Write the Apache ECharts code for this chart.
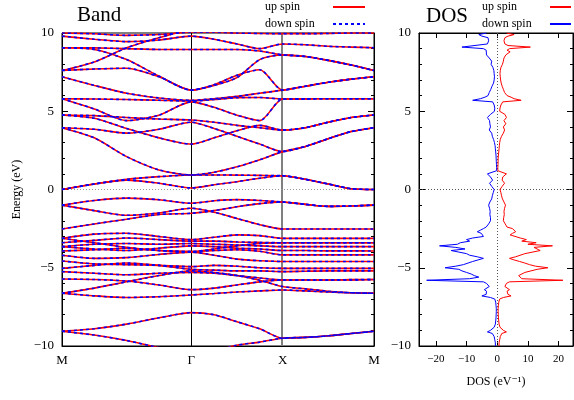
<!DOCTYPE html>
<html>
<head>
<meta charset="utf-8">
<script src="https://cdn.jsdelivr.net/npm/echarts@6/dist/echarts.min.js"></script>
<style>html,body{margin:0;padding:0;background:#fff}#c{width:574px;height:400px}</style>
</head>
<body>
<div id="c"></div>
<script>
// ---- k-path (M - Γ - X - M), sample positions along the path ----
const kPath = [0, 0.3536, 0.7071, 1.0607, 1.4142, 1.6642, 1.9142, 2.1642, 2.4142, 2.6642, 2.9142, 3.1642, 3.4142];
const kTickValues = [0, 1.4142, 2.4142, 3.4142];
const kTickLabels = ['M', 'Γ', 'X', 'M'];
const dosTicks = [-20, -10, 0, 10, 20];

// ---- band energies (eV) at the kPath samples ----
const bands = [
  [10.0, 9.95, 9.85, 9.9, 10.05, 10.05, 10.0, 9.97, 9.95, 9.95, 9.97, 10.0, 10.0],
  [9.8, 9.6, 9.45, 9.55, 9.8, 9.6, 9.3, 9.0, 9.3, 9.25, 9.15, 9.1, 9.06],
  [9.06, 9.05, 9.0, 8.95, 8.95, 8.95, 8.95, 8.85, 8.6, 8.5, 8.25, 7.95, 7.6],
  [9.06, 8.95, 8.3, 7.25, 6.35, 6.65, 7.15, 8.3, 8.6, 8.5, 8.25, 7.95, 7.6],
  [7.6, 8.15, 9.05, 9.7, 10.2, 10.25, 10.2, 10.15, 10.1, 10.1, 10.1, 10.1, 10.1],
  [7.6, 7.7, 7.75, 7.2, 6.35, 6.7, 7.3, 7.65, 6.35, 6.6, 6.85, 7.05, 7.2],
  [7.2, 6.65, 6.15, 5.85, 5.7, 5.8, 5.95, 6.15, 6.35, 6.6, 6.85, 7.05, 7.2],
  [5.8, 5.78, 5.75, 5.7, 5.65, 5.75, 5.87, 5.88, 5.78, 5.79, 5.8, 5.8, 5.8],
  [5.8, 5.15, 4.4, 4.75, 5.6, 5.25, 4.75, 4.4, 5.78, 5.79, 5.8, 5.8, 5.8],
  [4.76, 4.72, 4.6, 4.5, 4.44, 4.3, 4.1, 3.95, 3.8, 3.95, 4.3, 4.6, 4.76],
  [4.76, 4.55, 3.9, 3.3, 2.9, 3.3, 3.75, 4.1, 3.8, 3.95, 4.3, 4.6, 4.76],
  [3.95, 3.85, 3.6, 3.85, 4.3, 3.9, 3.4, 2.9, 2.42, 2.75, 3.25, 3.7, 3.95],
  [3.95, 3.3, 2.1, 1.25, 0.93, 1.1, 1.45, 1.9, 2.42, 2.75, 3.25, 3.7, 3.95],
  [0.0, 0.35, 0.65, 0.82, 0.93, 0.93, 0.92, 0.9, 0.88, 0.65, 0.35, 0.05, 0.0],
  [0.0, 0.35, 0.6, 0.4, 0.1, 0.3, 0.5, 0.72, 0.88, 0.65, 0.35, 0.05, 0.0],
  [-1.0, -0.7, -0.55, -0.65, -0.88, -0.72, -0.65, -0.7, -0.8, -0.95, -1.08, -1.05, -1.0],
  [-1.0, -1.35, -1.65, -1.5, -1.2, -1.45, -1.85, -2.25, -2.52, -2.52, -2.52, -2.52, -2.52],
  [-2.52, -2.2, -1.9, -1.6, -1.52, -1.35, -1.1, -0.9, -0.8, -0.95, -1.08, -1.05, -1.0],
  [-3.12, -2.85, -2.8, -3.0, -3.2, -3.05, -2.9, -2.95, -3.12, -3.12, -3.12, -3.12, -3.12],
  [-3.4, -3.25, -3.1, -3.2, -3.3, -3.3, -3.35, -3.38, -3.4, -3.4, -3.4, -3.4, -3.4],
  [-3.65, -3.5, -3.45, -3.5, -3.45, -3.5, -3.55, -3.6, -3.65, -3.65, -3.65, -3.65, -3.65],
  [-3.65, -3.8, -3.9, -3.75, -3.6, -3.65, -3.75, -3.8, -3.9, -3.9, -3.92, -3.92, -3.93],
  [-3.12, -3.4, -3.7, -3.9, -3.97, -3.8, -3.6, -3.45, -3.4, -3.4, -3.4, -3.4, -3.4],
  [-3.93, -3.85, -3.75, -3.9, -3.97, -3.9, -3.85, -3.95, -4.18, -4.18, -4.18, -4.18, -4.18],
  [-4.2, -4.4, -4.35, -4.15, -4.0, -4.2, -4.45, -4.55, -4.6, -4.6, -4.6, -4.6, -4.6],
  [-4.57, -4.75, -4.8, -4.85, -4.93, -4.85, -4.9, -5.0, -5.04, -5.04, -5.04, -5.04, -5.04],
  [-5.04, -4.85, -4.7, -4.85, -5.1, -5.15, -5.2, -5.2, -5.25, -5.22, -5.2, -5.2, -5.2],
  [-5.25, -5.35, -5.45, -5.35, -5.3, -5.35, -5.5, -5.65, -5.78, -5.78, -5.78, -5.78, -5.75],
  [-5.72, -5.75, -5.85, -6.1, -6.4, -6.3, -6.1, -5.9, -5.78, -5.78, -5.78, -5.76, -5.75],
  [-6.63, -6.3, -5.9, -5.5, -5.2, -5.3, -5.5, -5.8, -6.2, -6.35, -6.5, -6.6, -6.63],
  [-6.63, -6.8, -6.9, -6.85, -6.74, -6.65, -6.55, -6.48, -6.42, -6.48, -6.55, -6.6, -6.63],
  [-9.06, -8.9, -8.6, -8.2, -7.87, -8.0, -8.45, -8.9, -9.5, -9.45, -9.35, -9.2, -9.06],
  [-9.06, -9.3, -9.65, -10.1, -10.4, -10.3, -9.95, -9.75, -9.5, -9.45, -9.35, -9.2, -9.06]
];

// ---- density of states (eV^-1) ----
const dosEnergy = [
  10.0, 9.9, 9.8, 9.7, 9.6, 9.5, 9.4, 9.3, 9.2, 9.1, 9.0, 8.9, 8.8,
  8.6, 8.4, 8.2, 8.0, 7.8, 7.6, 7.4, 7.2, 7.0, 6.8, 6.6, 6.4, 6.2, 6.0,
  5.9, 5.8, 5.7, 5.6,
  5.4, 5.2, 5.0, 4.8, 4.6, 4.4, 4.2, 4.0, 3.8, 3.6, 3.4, 3.2, 3.0, 2.8, 2.6, 2.4, 2.2, 2.0, 1.8, 1.6, 1.4, 1.2,
  1.1, 1.0, 0.9, 0.8, 0.7, 0.6, 0.5, 0.4, 0.3, 0.2, 0.1, 0.0,
  -0.2, -0.4, -0.6, -0.8, -1.0, -1.2, -1.4, -1.6, -1.8, -2.0, -2.2, -2.4,
  -2.5, -2.6, -2.7, -2.8, -2.9, -3.0, -3.1, -3.2, -3.3, -3.4,
  -3.5, -3.6, -3.7, -3.8, -3.9, -4.0, -4.1, -4.2, -4.3, -4.4,
  -4.5, -4.6, -4.7, -4.8, -4.9, -5.0, -5.1, -5.2, -5.3, -5.4,
  -5.5, -5.6, -5.7, -5.8, -5.9, -6.0, -6.1, -6.2, -6.3, -6.4,
  -6.5, -6.6, -6.7, -6.8, -6.9, -7.0,
  -7.2, -7.4, -7.6, -7.8, -8.0, -8.2, -8.4, -8.6, -8.8, -9.0,
  -9.1, -9.2,
  -9.4, -9.6, -9.8, -10.0
];
const dosUp = [
  3.0, 5.5, 3.5, 2.5, 3.0, 2.2, 2.8, 2.5, 3.5, 10.8, 4.0, 3.2, 4.2,
  2.8, 2.2, 2.0, 1.7, 1.2, 1.0, 0.9, 1.0, 1.1, 1.3, 1.6, 2.0, 2.4, 3.2,
  4.5, 5.5, 7.8, 1.8,
  1.2, 0.9, 0.8, 2.5, 3.0, 2.2, 2.8, 2.0, 2.4, 2.0, 1.4, 1.0, 0.8, 0.7, 0.6, 0.5, 0.4, 0.3, 0.3, 0.25, 0.2, 0.2,
  0.3, 3.0, 2.5, 1.8, 1.5, 1.6, 1.9, 2.4, 2.2, 1.6, 1.0, 0.9,
  1.2, 1.4, 1.7, 2.2, 2.7, 2.4, 2.2, 2.3, 2.1, 2.0, 2.6, 3.2,
  5.0, 4.5, 6.0, 5.0, 4.2, 4.8, 7.5, 9.5, 8.0, 12.7,
  10.0, 18.0, 12.0, 11.6, 14.0, 13.8, 9.0, 8.4, 6.0, 4.0,
  5.5, 7.3, 9.0, 10.5, 12.5, 16.5, 13.0, 11.0, 9.0, 9.5,
  7.0, 6.5, 8.0, 21.4, 4.0, 3.0, 2.8, 2.5, 3.0, 4.0,
  3.2, 3.8, 3.5, 4.5, 2.0, 0.8,
  0.5, 0.4, 0.3, 0.3, 0.35, 0.4, 0.5, 0.6, 0.9, 2.0,
  3.0, 1.5,
  1.0, 0.8, 0.6, 0.6
];
const dosDown = [
  -3.5, -6.0, -5.0, -3.0, -2.5, -2.8, -2.5, -3.2, -3.5, -11.5, -4.5, -3.6, -4.0,
  -3.5, -2.6, -1.8, -2.0, -1.4, -1.1, -1.0, -0.9, -1.0, -1.2, -1.7, -2.1, -2.6, -3.0,
  -4.0, -5.5, -8.0, -1.5,
  -1.0, -0.8, -0.9, -2.2, -3.2, -2.5, -2.4, -2.2, -2.6, -1.8, -1.6, -1.2, -0.9, -0.7, -0.6, -0.5, -0.4, -0.35, -0.3, -0.25, -0.2, -0.2,
  -0.3, -3.2, -2.6, -2.2, -1.6, -1.5, -2.0, -2.5, -2.4, -1.8, -1.2, -1.0,
  -1.3, -1.6, -1.8, -2.4, -2.8, -2.5, -2.3, -2.4, -2.2, -2.2, -2.8, -3.6,
  -4.5, -5.5, -6.5, -5.2, -4.8, -4.5, -8.0, -10.0, -9.0, -12.0,
  -13.0, -18.8, -13.5, -10.5, -15.0, -12.5, -10.0, -9.0, -6.5, -4.5,
  -5.0, -8.0, -9.5, -11.0, -13.5, -17.0, -12.5, -11.5, -10.0, -8.5,
  -7.5, -6.0, -9.0, -23.0, -4.5, -3.5, -3.0, -2.6, -3.2, -4.2,
  -3.5, -4.0, -3.6, -5.0, -2.2, -0.8,
  -0.5, -0.4, -0.3, -0.3, -0.35, -0.4, -0.5, -0.6, -1.0, -2.2,
  -3.2, -1.6,
  -1.0, -0.8, -0.6, -0.6
];

const SERIF = "'Liberation Serif', 'DejaVu Serif', serif";
const minus = v => (v < 0 ? '\u2212' + Math.abs(v) : String(v));

const chart = echarts.init(document.getElementById('c'), null, {renderer: 'canvas'});

const series = [];
// reference lines (Γ, X, Fermi level) in the band panel
series.push({
  type: 'line', xAxisIndex: 0, yAxisIndex: 0, data: [], silent: true, z: 1,
  markLine: {
    silent: true, symbol: ['none', 'none'], label: {show: false}, animation: false, z: 1,
    data: [
      {xAxis: kTickValues[1], lineStyle: {color: '#000', width: 1, type: 'solid'}},
      {xAxis: kTickValues[2], lineStyle: {color: '#808080', width: 2, type: 'solid'}},
      {yAxis: 0, lineStyle: {color: '#999', width: 1, type: [1, 2]}}
    ]
  }
});
// reference lines in DOS panel
series.push({
  type: 'line', xAxisIndex: 1, yAxisIndex: 2, data: [], silent: true, z: 1,
  markLine: {
    silent: true, symbol: ['none', 'none'], label: {show: false}, animation: false, z: 1,
    data: [
      {xAxis: 0, lineStyle: {color: '#555', width: 1, type: [1, 2]}},
      {yAxis: 0, lineStyle: {color: '#555', width: 1, type: [1, 2]}}
    ]
  }
});

bands.forEach(b => {
  const data = kPath.map((k, j) => [k, b[j]]);
  series.push({
    type: 'line', name: 'up spin', xAxisIndex: 0, yAxisIndex: 0, data,
    smooth: 0.25, symbol: 'none', silent: true, z: 2,
    lineStyle: {color: '#ff0000', width: 1.6}
  });
  series.push({
    type: 'line', name: 'down spin', xAxisIndex: 0, yAxisIndex: 0, data,
    smooth: 0.25, symbol: 'none', silent: true, z: 3,
    lineStyle: {color: '#0000ff', width: 1.6, type: [3, 3]}
  });
});

series.push({
  type: 'line', name: 'DOS up spin', xAxisIndex: 1, yAxisIndex: 2,
  data: dosEnergy.map((e, i) => [dosUp[i], e]),
  symbol: 'none', silent: true, z: 2, color: '#ff0000', lineStyle: {color: '#ff0000', width: 1}
});
series.push({
  type: 'line', name: 'DOS down spin', xAxisIndex: 1, yAxisIndex: 2,
  data: dosEnergy.map((e, i) => [dosDown[i], e]),
  symbol: 'none', silent: true, z: 2, color: '#0000ff', lineStyle: {color: '#0000ff', width: 1}
});

const tickLabelStyle = {fontFamily: SERIF, fontSize: 13, color: '#000'};
const legendText = w => ({
  fontFamily: SERIF, fontSize: 12, color: '#000',
  rich: {a: {width: w, align: 'left', fontFamily: SERIF, fontSize: 12, color: '#000'}}
});

const energyAxis = (grid, pos, labels) => ({
  type: 'value', gridIndex: grid, position: pos, min: -10, max: 10, interval: 5,
  axisLine: {show: true, onZero: false, lineStyle: {color: '#000', width: 1}},
  axisTick: {show: true, inside: true, length: 6, lineStyle: {color: '#000'}},
  minorTick: {show: true, splitNumber: 5, length: 3, lineStyle: {color: '#000'}},
  splitLine: {show: false},
  axisLabel: labels ? Object.assign({show: true, margin: 8, formatter: minus}, tickLabelStyle) : {show: false}
});

chart.setOption({
  animation: false,
  backgroundColor: '#fff',
  title: [
    {text: 'Band', left: 77, top: 5, padding: 0, textStyle: {fontFamily: SERIF, fontSize: 21, fontWeight: 'normal', color: '#000'}},
    {text: 'DOS', left: 426, top: 6, padding: 0, textStyle: {fontFamily: SERIF, fontSize: 21, fontWeight: 'normal', color: '#000'}}
  ],
  legend: [
    {
      left: 260, top: -4, orient: 'vertical', align: 'right', itemGap: 5,
      itemWidth: 32, itemHeight: 14, selectedMode: false,
      itemStyle: {opacity: 0},
      data: ['up spin', 'down spin'],
      formatter: n => '{a|' + n + '}',
      textStyle: legendText(63)
    },
    {
      left: 477, top: -4, orient: 'vertical', align: 'right', itemGap: 5,
      itemWidth: 21, itemHeight: 14, selectedMode: false,
      itemStyle: {opacity: 0},
      data: ['DOS up spin', 'DOS down spin'],
      formatter: n => '{a|' + n.replace('DOS ', '') + '}',
      textStyle: legendText(63)
    }
  ],
  grid: [
    {left: 62, top: 33, width: 312, height: 313, show: true, borderColor: '#000', borderWidth: 1, backgroundColor: 'transparent'},
    {left: 419, top: 33, width: 154, height: 313, show: true, borderColor: '#000', borderWidth: 1, backgroundColor: 'transparent'}
  ],
  xAxis: [
    {
      type: 'value', gridIndex: 0, min: 0, max: kTickValues[3],
      axisLine: {show: true, onZero: false, lineStyle: {color: '#000'}},
      axisTick: {show: false}, splitLine: {show: false},
      axisLabel: Object.assign({
        show: true, margin: 8, showMinLabel: true, showMaxLabel: true,
        customValues: kTickValues,
        formatter: v => {
          let best = 0;
          kTickValues.forEach((t, i) => { if (Math.abs(t - v) < Math.abs(kTickValues[best] - v)) best = i; });
          return kTickLabels[best];
        }
      }, tickLabelStyle)
    },
    {
      type: 'value', gridIndex: 1, min: -25.5, max: 24.7, position: 'bottom',
      name: 'DOS (eV\u207B\u00B9)', nameLocation: 'middle', nameGap: 30,
      nameTextStyle: {fontFamily: SERIF, fontSize: 12, color: '#000'},
      axisLine: {show: true, onZero: false, lineStyle: {color: '#000'}},
      axisTick: {show: true, inside: true, length: 5, customValues: dosTicks, lineStyle: {color: '#000'}},
      splitLine: {show: false},
      axisLabel: {show: true, margin: 8, customValues: dosTicks, formatter: minus, fontFamily: SERIF, fontSize: 11, color: '#000'}
    },
    {
      type: 'value', gridIndex: 1, min: -25.5, max: 24.7, position: 'top',
      axisLine: {show: true, onZero: false, lineStyle: {color: '#000'}},
      axisTick: {show: true, inside: true, length: 5, customValues: dosTicks, lineStyle: {color: '#000'}},
      splitLine: {show: false}, axisLabel: {show: false}
    }
  ],
  yAxis: [
    Object.assign(energyAxis(0, 'left', true), {
      name: 'Energy (eV)', nameLocation: 'middle', nameGap: 38, nameRotate: 90,
      nameTextStyle: {fontFamily: SERIF, fontSize: 12, color: '#000'}
    }),
    energyAxis(0, 'right', false),
    energyAxis(1, 'left', true),
    energyAxis(1, 'right', false)
  ],
  series
});
</script>
</body>
</html>
